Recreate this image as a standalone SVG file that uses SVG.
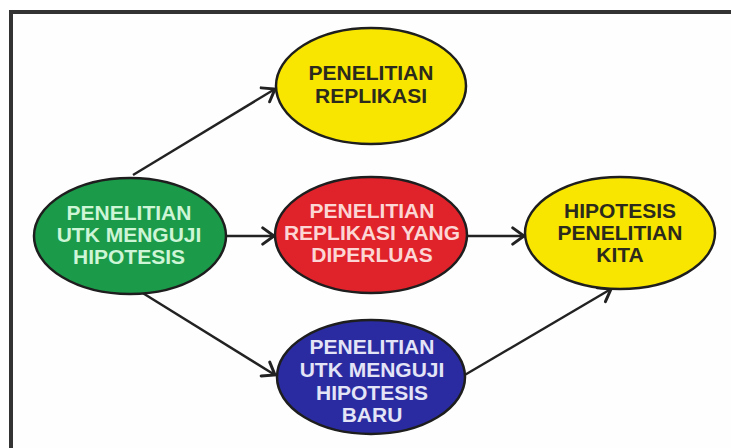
<svg xmlns="http://www.w3.org/2000/svg" width="731" height="448" viewBox="0 0 731 448">
  <style>
    .frame { fill: #fefefe; stroke: #333333; stroke-width: 4; }
    .node { stroke: #1e1e1e; stroke-width: 2.5; }
    .yellow { fill: #f8e600; }
    .green { fill: #1b9a4a; }
    .red { fill: #e0222b; }
    .blue { fill: #2a2ba0; }
    .label { font-family: "Liberation Sans", Arial, sans-serif; font-weight: bold; font-size: 21px; text-anchor: middle; }
    .dark { fill: #2b2a1c; }
    .mint { fill: #cdf5d6; }
    .pink { fill: #fbd6d4; }
    .lilac { fill: #e4e4f7; }
    .edge { stroke: #222222; stroke-width: 2.4; fill: none; marker-end: url(#chev); }
  </style>
  <defs>
    <marker id="chev" markerUnits="userSpaceOnUse" markerWidth="20" markerHeight="20" viewBox="-12 -8 14 16" refX="0" refY="0" orient="auto">
      <path d="M-9,-6.5 L0,0 L-9,6.5" fill="none" stroke="#222222" stroke-width="2.4" stroke-linecap="round" stroke-linejoin="miter"/>
    </marker>
  </defs>

  <rect class="frame" x="11" y="12" width="740" height="460"/>

  <g id="connectors">
    <line class="edge" x1="133" y1="175" x2="275" y2="89"/>
    <line class="edge" x1="226" y1="236" x2="274" y2="236"/>
    <line class="edge" x1="467" y1="236" x2="524" y2="236"/>
    <line class="edge" x1="133" y1="287" x2="275" y2="375"/>
    <line class="edge" x1="463" y1="376" x2="611" y2="289"/>
  </g>

  <g id="replikasi">
    <ellipse class="node yellow" cx="371" cy="86" rx="95" ry="58"/>
    <text class="label dark" x="371" y="80">PENELITIAN</text>
    <text class="label dark" x="371" y="103">REPLIKASI</text>
  </g>

  <g id="menguji-hipotesis">
    <ellipse class="node green" cx="130" cy="236" rx="96" ry="58"/>
    <text class="label mint" x="129" y="220">PENELITIAN</text>
    <text class="label mint" x="129" y="242">UTK MENGUJI</text>
    <text class="label mint" x="129" y="264">HIPOTESIS</text>
  </g>

  <g id="replikasi-diperluas">
    <ellipse class="node red" cx="371" cy="235" rx="96" ry="58"/>
    <text class="label pink" x="372" y="218">PENELITIAN</text>
    <text class="label pink" x="372" y="240">REPLIKASI YANG</text>
    <text class="label pink" x="372" y="262">DIPERLUAS</text>
  </g>

  <g id="hipotesis-kita">
    <ellipse class="node yellow" cx="620" cy="233" rx="95" ry="56"/>
    <text class="label dark" x="620" y="218">HIPOTESIS</text>
    <text class="label dark" x="620" y="240">PENELITIAN</text>
    <text class="label dark" x="620" y="262">KITA</text>
  </g>

  <g id="hipotesis-baru">
    <ellipse class="node blue" cx="371" cy="377" rx="94" ry="57"/>
    <text class="label lilac" x="372" y="354">PENELITIAN</text>
    <text class="label lilac" x="372" y="377">UTK MENGUJI</text>
    <text class="label lilac" x="372" y="400">HIPOTESIS</text>
    <text class="label lilac" x="372" y="422">BARU</text>
  </g>
</svg>
